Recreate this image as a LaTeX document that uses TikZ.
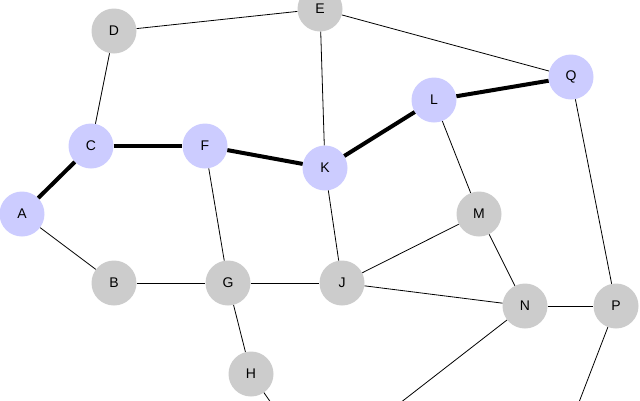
\documentclass[tikz,border=0pt]{standalone}
\usepackage{fontspec}
\setmainfont{Liberation Sans}
\definecolor{nodegray}{HTML}{CCCCCC}
\definecolor{nodeblue}{HTML}{CCCCFF}
\begin{document}
\begin{tikzpicture}[x=1pt,y=-1pt,
  vtx/.style={circle,minimum size=45pt,inner sep=0pt,fill=nodegray,font=\fontsize{14}{14}\selectfont},
  hot/.style={vtx,fill=nodeblue},
  edge/.style={line width=0.8pt},
  pathedge/.style={line width=4pt}]
\useasboundingbox (0,0) rectangle (640,400);
\node[hot] (A) at (22,214) {A};
\node[vtx] (B) at (114,283) {B};
\node[hot] (C) at (91,146) {C};
\node[vtx] (D) at (114,31) {D};
\node[vtx] (E) at (320,9) {E};
\node[hot] (F) at (205,146) {F};
\node[vtx] (G) at (228,283) {G};
\node[vtx] (H) at (251,374) {H};
\node[vtx] (J) at (342,283) {J};
\node[hot] (K) at (325,168) {K};
\node[hot] (L) at (434,100) {L};
\node[vtx] (M) at (479,214) {M};
\node[vtx] (N) at (525,306) {N};
\node[vtx] (P) at (616,306) {P};
\node[hot] (Q) at (571,77) {Q};
\coordinate (Hout) at (276,410);
\coordinate (Nout) at (391,410);
\coordinate (Pout) at (576,410);
\draw[pathedge] (A) -- (C);
\draw[pathedge] (C) -- (F);
\draw[pathedge] (F) -- (K);
\draw[pathedge] (K) -- (L);
\draw[pathedge] (L) -- (Q);
\draw[edge] (D) -- (E);
\draw[edge] (D) -- (C);
\draw[edge] (E) -- (K);
\draw[edge] (E) -- (Q);
\draw[edge] (Q) -- (P);
\draw[edge] (L) -- (M);
\draw[edge] (F) -- (G);
\draw[edge] (K) -- (J);
\draw[edge] (A) -- (B);
\draw[edge] (B) -- (G);
\draw[edge] (G) -- (J);
\draw[edge] (G) -- (H);
\draw[edge] (J) -- (M);
\draw[edge] (J) -- (N);
\draw[edge] (M) -- (N);
\draw[edge] (N) -- (P);
\draw[edge] (N) -- (Nout);
\draw[edge] (P) -- (Pout);
\draw[edge] (H) -- (Hout);
\end{tikzpicture}
\end{document}
